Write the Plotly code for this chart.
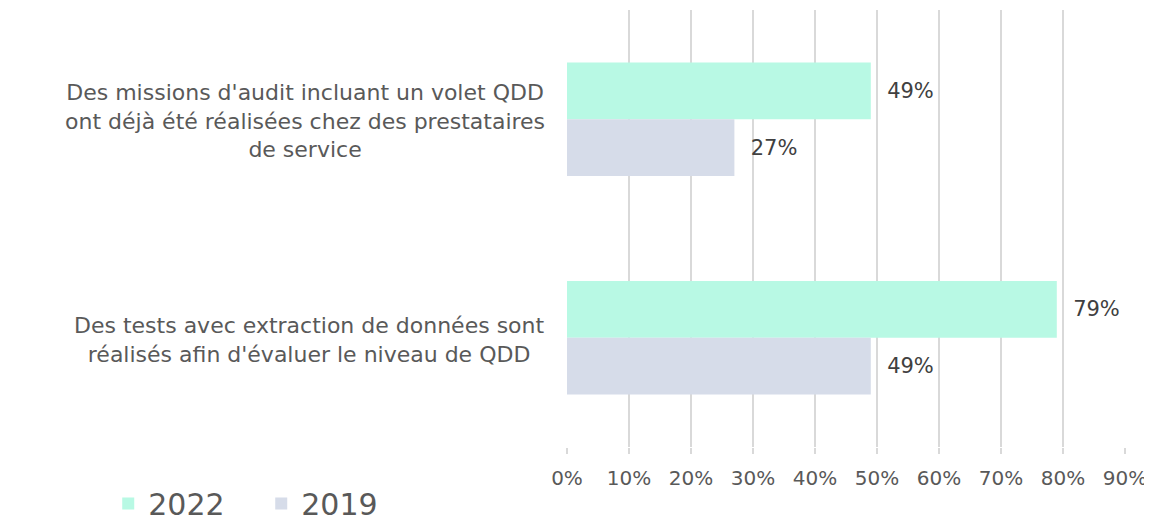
import plotly.graph_objects as go

categories = [
    "Des missions d'audit incluant un volet QDD<br>ont déjà été réalisées chez des prestataires<br>de service",
    "Des tests avec extraction de données sont<br>réalisés afin d'évaluer le niveau de QDD",
]
cat_keys = ["c1", "c2"]
series_names = ["2022", "2019"]
values_2022 = [49, 79]
values_2019 = [27, 49]
colors = ["#B8F9E4", "#D6DCE9"]
tick_vals = [0, 10, 20, 30, 40, 50, 60, 70, 80, 90]
tick_text = [f"{v}%" for v in tick_vals]

FONT = "DejaVu Sans"

fig = go.Figure()
for name, vals, col in zip(series_names, [values_2022, values_2019], colors):
    fig.add_trace(go.Bar(
        y=cat_keys, x=vals, name=name, orientation="h",
        marker=dict(color=col, line=dict(width=0)),
        text=[f"{v}%" for v in vals], textposition="outside",
        texttemplate="  %{text}",
        textfont=dict(family=FONT, size=21, color="#404040"),
        cliponaxis=False,
    ))

for key, label in zip(cat_keys, categories):
    fig.add_annotation(
        x=0, xref="paper", y=key, yref="y", text=label,
        xanchor="right", yanchor="middle", align="center", xshift=-20, yshift=-2,
        showarrow=False, font=dict(family=FONT, size=22, color="#595959"),
    )

fig.update_layout(
    width=1152, height=520,
    margin=dict(l=559, r=35, t=2, b=81, autoexpand=False),
    paper_bgcolor="white", plot_bgcolor="white",
    barmode="group", bargap=0.48, bargroupgap=0,
    font=dict(family=FONT, color="#595959"),
    showlegend=True,
    legend=dict(
        orientation="h", xref="container", yref="container",
        x=0.087, y=0.047, xanchor="left", yanchor="middle",
        font=dict(family=FONT, size=30, color="#595959"),
        itemwidth=30, traceorder="normal",
        entrywidth=108, entrywidthmode="pixels",
    ),
    xaxis=dict(
        range=[0, 90], tickvals=tick_vals, ticktext=tick_text,
        showgrid=True, gridcolor="#D9D9D9", gridwidth=2,
        zeroline=False, showline=False,
        ticks="outside", ticklen=6, tickcolor="#D9D9D9", tickwidth=2,
        tickfont=dict(family=FONT, size=20, color="#595959"),
        ticklabelstandoff=7,
    ),
    yaxis=dict(
        autorange="reversed", showticklabels=False, showgrid=False,
        zeroline=False, showline=False,
    ),
)

fig.write_html("out.html")
